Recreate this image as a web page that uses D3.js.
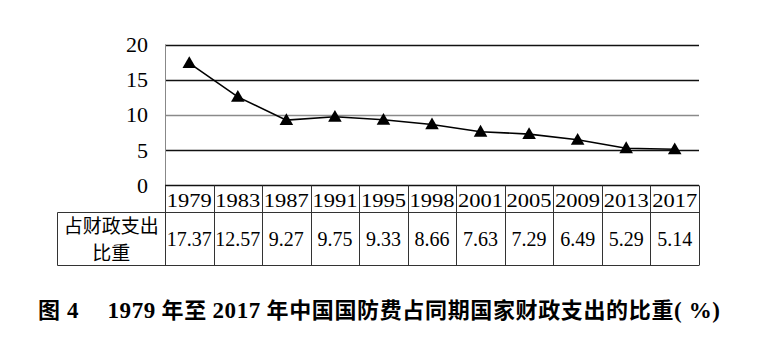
<!DOCTYPE html>
<html>
<head>
<meta charset="utf-8">
<script src="https://cdn.jsdelivr.net/npm/d3@7"></script>
<style>
  body { margin: 0; background: #fff; }
  svg { display: block; }
  .num { font-family: "Liberation Serif", "DejaVu Serif", serif; fill: #000; }
  .cjk { font-family: "Noto Sans CJK SC", sans-serif; fill: #000; }
</style>
</head>
<body>
<div id="chart"></div>
<script>
// data
var years = ['1979','1983','1987','1991','1995','1998','2001','2005','2009','2013','2017'];
var shares = [17.37, 12.57, 9.27, 9.75, 9.33, 8.66, 7.63, 7.29, 6.49, 5.29, 5.14];
var yTicks = [0, 5, 10, 15, 20];
var rowLabel = ['占财政支出', '比重'];
// caption pieces: [text, serif digits?]
var captionParts = [
  ['图', false], [' 4', true], ['　 ', false], ['1979', true], [' 年至 ', false],
  ['2017', true], [' 年中国国防费占同期国家财政支出的比重', false], ['( %)', true]
];

var width = 760, height = 351;
var plot = {left: 165, right: 699, top: 44.5, bottom: 185.5};

var svg = d3.select('#chart').append('svg')
  .attr('width', width)
  .attr('height', height);

var x = d3.scaleBand().domain(years).range([plot.left, plot.right]);
var y = d3.scaleLinear().domain([0, 20]).range([plot.bottom, plot.top]);

// gridlines
svg.append('g').selectAll('line')
  .data(yTicks.filter(function (d) { return d > 0; }))
  .join('line')
  .attr('x1', plot.left).attr('x2', plot.right)
  .attr('y1', function (d) { return Math.round(y(d)) + 0.5; })
  .attr('y2', function (d) { return Math.round(y(d)) + 0.5; })
  .attr('stroke', function (d) { return d === 10 ? '#8a8a8a' : '#111'; })
  .attr('stroke-width', 1.3);

// y axis line
svg.append('line')
  .attr('x1', plot.left + 0.5).attr('x2', plot.left + 0.5)
  .attr('y1', plot.top).attr('y2', plot.bottom)
  .attr('stroke', '#888');

// y tick labels
svg.append('g').selectAll('text')
  .data(yTicks)
  .join('text')
  .attr('class', 'num')
  .attr('x', 148)
  .attr('y', function (d) { return y(d); })
  .attr('dy', '0.33em')
  .attr('text-anchor', 'end')
  .style('font-size', '22px')
  .text(function (d) { return d; });

// line
var line = d3.line()
  .x(function (d, i) { return x(years[i]) + x.bandwidth() / 2; })
  .y(function (d) { return y(d); });

svg.append('path')
  .datum(shares)
  .attr('d', line)
  .attr('fill', 'none')
  .attr('stroke', '#000')
  .attr('stroke-width', 1.6);

// triangle markers
var tri = d3.symbol().type(d3.symbolTriangle).size(80);
svg.append('g').selectAll('path')
  .data(shares)
  .join('path')
  .attr('d', tri)
  .attr('transform', function (d, i) {
    return 'translate(' + (x(years[i]) + x.bandwidth() / 2) + ',' + (y(d) + 1) + ')';
  })
  .attr('fill', '#000');

// table
var row1 = {top: 185.5, bottom: 212.5};
var row2 = {top: 212.5, bottom: 265.5};
var labelLeft = 57.5;
var tbl = svg.append('g').attr('stroke', '#333').attr('stroke-width', 1).attr('fill', 'none');

tbl.append('line').attr('x1', plot.left).attr('x2', plot.right).attr('y1', row1.top).attr('y2', row1.top).attr('stroke', '#111').attr('stroke-width', 1.3);
tbl.append('line').attr('x1', labelLeft).attr('x2', plot.right).attr('y1', row1.bottom).attr('y2', row1.bottom);
tbl.append('line').attr('x1', labelLeft).attr('x2', plot.right).attr('y1', row2.bottom).attr('y2', row2.bottom);
tbl.append('line').attr('x1', labelLeft).attr('x2', labelLeft).attr('y1', row2.top).attr('y2', row2.bottom);

// vertical lines between columns
var edges = years.map(function (d) { return x(d); }).concat([plot.right]);
tbl.selectAll('line.v')
  .data(edges)
  .join('line')
  .attr('class', 'v')
  .attr('x1', function (d) { return Math.round(d) + 0.5; })
  .attr('x2', function (d) { return Math.round(d) + 0.5; })
  .attr('y1', row1.top)
  .attr('y2', row2.bottom);

// year labels (stretched a little like the print)
svg.append('g').selectAll('text')
  .data(years)
  .join('text')
  .attr('class', 'num')
  .attr('x', function (d) { return x(d) + x.bandwidth() / 2; })
  .attr('y', (row1.top + row1.bottom) / 2 + 1)
  .attr('dy', '0.35em')
  .attr('text-anchor', 'middle')
  .attr('textLength', 45)
  .attr('lengthAdjust', 'spacingAndGlyphs')
  .style('font-size', '19.5px')
  .text(function (d) { return d; });

// value labels
svg.append('g').selectAll('text')
  .data(shares)
  .join('text')
  .attr('class', 'num')
  .attr('x', function (d, i) { return x(years[i]) + x.bandwidth() / 2; })
  .attr('y', (row2.top + row2.bottom) / 2)
  .attr('dy', '0.35em')
  .attr('text-anchor', 'middle')
  .style('font-size', '20px')
  .text(function (d) { return d.toFixed(2); });

// row label
svg.append('g').selectAll('text')
  .data(rowLabel)
  .join('text')
  .attr('class', 'cjk')
  .attr('x', (labelLeft + plot.left) / 2)
  .attr('y', function (d, i) { return 226 + i * 27; })
  .attr('dy', '0.35em')
  .attr('text-anchor', 'middle')
  .style('font-size', '19px')
  .text(function (d) { return d; });

// caption
var cap = svg.append('text')
  .attr('x', 38)
  .attr('y', 318)
  .attr('textLength', 682)
  .attr('lengthAdjust', 'spacing')
  .style('font-weight', 'bold');
cap.selectAll('tspan')
  .data(captionParts)
  .join('tspan')
  .attr('class', function (d) { return d[1] ? 'num' : 'cjk'; })
  .style('font-size', function (d) { return d[1] ? '23px' : '22px'; })
  .text(function (d) { return d[0]; });
</script>
</body>
</html>
